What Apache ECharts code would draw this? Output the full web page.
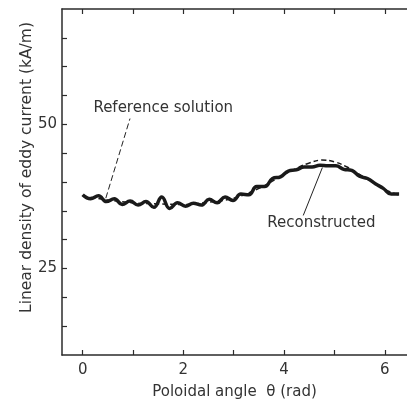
<!DOCTYPE html>
<html>
<head>
<meta charset="utf-8">
<script src="https://cdn.jsdelivr.net/npm/echarts@6/dist/echarts.min.js"></script>
<style>html,body{margin:0;padding:0;background:#fff;overflow:hidden}#c{width:407px;height:405px}</style>
</head>
<body>
<div id="c"></div>
<script>
// Reconstructed (solid, wavy)
const thetaRec = [0.000,0.157,0.314,0.471,0.628,0.785,0.942,1.100,1.257,1.414,1.571,1.728,1.885,2.042,2.199,2.356,2.513,2.670,2.827,2.985,3.142,3.299,3.456,3.613,3.770,3.927,4.084,4.241,4.398,4.555,4.712,4.869,5.027,5.184,5.341,5.498,5.655,5.812,5.969,6.126,6.283];
const valRec = [37.8,37.1,37.6,36.6,37.1,36.1,36.7,36.0,36.6,35.6,37.4,35.4,36.4,35.8,36.3,36.0,37.0,36.4,37.4,36.8,37.9,37.8,39.2,39.2,40.6,40.9,41.9,42.1,42.6,42.6,42.9,42.8,42.8,42.2,42.0,41.0,40.6,39.7,38.9,37.9,37.9];
// Reference solution (dashed, smooth)
const thetaRef = [0.0,0.5,1.0,1.5,2.0,2.5,3.0,3.5,4.0,4.25,4.5,4.75,5.0,5.25,5.5,5.75,6.0,6.283];
const valRef = [37.6,36.9,36.4,36.2,36.1,36.5,37.2,38.9,41.3,42.4,43.3,43.8,43.5,42.6,41.3,40.0,38.7,37.7];
// Axis ticks / labels
const xTicks = [0,1,2,3,4,5,6];
const xLabels = [0,2,4,6];
const yTicks = [15,20,25,30,35,40,45,50,55,60,65];
const yLabels = [25,50];
// Annotations (data coordinates)
const refLeader = [[0.46,37.2],[0.94,51.0]];
const recLeader = [[4.76,42.5],[4.38,34.2]];
const refLabelPos = [1.60,52.8];
const recLabelPos = [4.74,32.9];

const FONT = 'DejaVu Sans';
const LINE = '#2b2b2b';
const TXT = '#333';

const chart = echarts.init(document.getElementById('c'), null, {renderer:'canvas'});
const pair = (xs, ys) => xs.map((x,i)=>[x, ys[i]]);

chart.setOption({
  animation:false,
  backgroundColor:'#fff',
  grid:{left:62, top:9, right:0, bottom:45, containLabel:false},
  xAxis:[{
    type:'value', min:-0.41, max:6.44, position:'bottom',
    axisLine:{show:true, onZero:false, lineStyle:{color:LINE, width:1.5}},
    axisTick:{show:true, inside:true, length:5, customValues:xTicks, lineStyle:{color:LINE, width:1.2}},
    axisLabel:{show:true, customValues:xLabels, color:TXT, fontFamily:FONT, fontSize:15, margin:8},
    splitLine:{show:false},
    name:'Poloidal angle  \u03b8 (rad)', nameLocation:'middle', nameGap:30,
    nameTextStyle:{color:TXT, fontFamily:FONT, fontSize:15}
  },{
    type:'value', min:-0.41, max:6.44, position:'top',
    axisLine:{show:true, onZero:false, lineStyle:{color:LINE, width:1.5}},
    axisTick:{show:true, inside:true, length:5, customValues:xTicks, lineStyle:{color:LINE, width:1.2}},
    axisLabel:{show:false}, splitLine:{show:false}
  }],
  yAxis:{
    type:'value', min:10, max:70,
    axisLine:{show:true, onZero:false, lineStyle:{color:LINE, width:1.5}},
    axisTick:{show:true, inside:true, length:5, customValues:yTicks, lineStyle:{color:LINE, width:1.2}},
    axisLabel:{show:true, customValues:yLabels, color:TXT, fontFamily:FONT, fontSize:15, margin:5},
    splitLine:{show:false}
  },
  graphic:[{
    type:'text', x:27, y:167.5, rotation:Math.PI/2,
    style:{text:'Linear density of eddy current (kA/m)', fill:TXT, font:'15.5px "DejaVu Sans"', textAlign:'center', textVerticalAlign:'middle'}
  }],
  series:[{
    name:'Reference solution', type:'line', data:pair(thetaRef,valRef), smooth:0.4,
    symbol:'none', lineStyle:{color:'#1a1a1a', width:1.5, type:[5,3]}, z:2,
    markLine:{silent:true, symbol:'none', label:{show:false},
      lineStyle:{color:'#222', width:1, type:[6,3]},
      data:[[{coord:refLeader[0]},{coord:refLeader[1]}]]},
    markPoint:{silent:true, symbol:'circle', symbolSize:0,
      label:{show:true, position:'inside', formatter:'Reference solution', color:TXT, fontFamily:FONT, fontSize:15},
      data:[{coord:refLabelPos}]}
  },{
    name:'Reconstructed', type:'line', data:pair(thetaRec,valRec), smooth:0.45,
    symbol:'none', lineStyle:{color:'#1a1a1a', width:3.5}, z:3,
    markLine:{silent:true, symbol:'none', label:{show:false},
      lineStyle:{color:'#222', width:1, type:'solid'},
      data:[[{coord:recLeader[0]},{coord:recLeader[1]}]]},
    markPoint:{silent:true, symbol:'circle', symbolSize:0,
      label:{show:true, position:'inside', formatter:'Reconstructed', color:TXT, fontFamily:FONT, fontSize:15},
      data:[{coord:recLabelPos}]}
  }]
});
</script>
</body>
</html>
